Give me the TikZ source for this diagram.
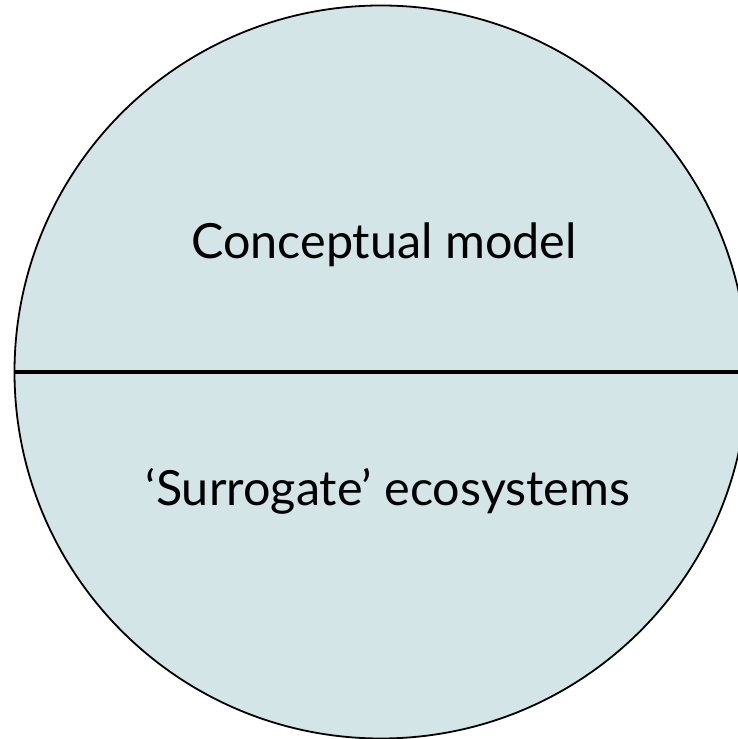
\documentclass[tikz,border=0pt]{standalone}
\usepackage{fontspec}
\setmainfont{Lato}
\definecolor{diskfill}{RGB}{211,229,231}
\begin{document}
\begin{tikzpicture}
        [x=1pt,y=1pt,
         disk_style/.style={circle,draw=black,line width=1.8pt,fill=diskfill,minimum size=733pt,inner sep=0pt},
         label_style/.style={font=\fontsize{48.5}{58}\selectfont},
         edge_style/.style={draw=black,line width=4.5pt}]
            \useasboundingbox (0,0) rectangle (738,739);
            \clip (0,0) rectangle (738,739);
            \node[disk_style] (disk) at (381,367) {};
            \node[label_style] (upper) at (384,494) {Conceptual model};
            \node[label_style] (lower) at (388,248) {`Surrogate' ecosystems};
            \draw[edge_style]  (disk.west) -- (disk.east);
        \end{tikzpicture}
\end{document}
